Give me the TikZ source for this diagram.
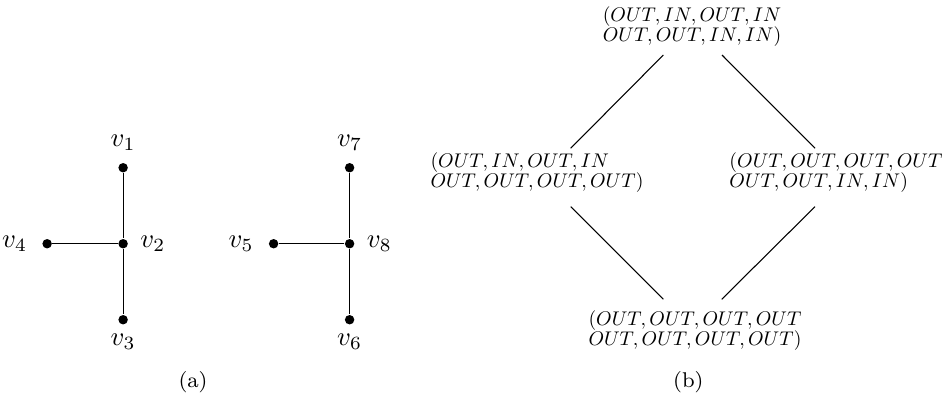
\documentclass[tikz,border=0pt]{standalone}
\usetikzlibrary{positioning}

\tikzset{
	vertex/.style={circle, fill=black, inner sep=1.25pt},
	tuple/.style={align=left, inner sep=1pt, scale=0.74, transform shape},
	sublabel/.style={font=\footnotesize}
}

\begin{document}
\begin{tikzpicture}
	\useasboundingbox (0,0) rectangle (12.434,5.237);
	% (a) two stars
	\node[vertex, label={[label distance=1pt]above:$v_1$}] (v1) at (1.62,3.03) {};
	\node[vertex, label={[label distance=1pt]right:$v_2$}] (v2) at (1.62,2.03) {};
	\node[vertex, label={[label distance=0pt]below:$v_3$}] (v3) at (1.62,1.03) {};
	\node[vertex, label={[label distance=2pt]left:$v_4$}] (v4) at (0.62,2.03) {};
	\draw (v1) -- (v2) -- (v3);
	\draw (v4) -- (v2);
	\node[vertex, label={[label distance=1pt]above:$v_7$}] (v7) at (4.6,3.03) {};
	\node[vertex, label={[label distance=1pt]right:$v_8$}] (v8) at (4.6,2.03) {};
	\node[vertex, label={[label distance=0pt]below:$v_6$}] (v6) at (4.6,1.03) {};
	\node[vertex, label={[label distance=2pt]left:$v_5$}] (v5) at (3.6,2.03) {};
	\draw (v7) -- (v8) -- (v6);
	\draw (v5) -- (v8);
	\node[sublabel] (capa) at (2.54,0.21) {(a)};
	% (b) the lattice
	\node[tuple] (top) at (9.105,4.89) {$(OUT, IN, OUT, IN$\\[-1.9pt]$OUT, OUT, IN, IN)$};
	\node[tuple] (left) at (7.066,2.97) {$(OUT, IN, OUT, IN$\\[-1.9pt]$OUT, OUT, OUT, OUT)$};
	\node[tuple] (right) at (11.0,2.97) {$(OUT, OUT, OUT, OUT$\\[-1.9pt]$OUT, OUT, IN, IN)$};
	\node[tuple] (bottom) at (9.145,0.89) {$(OUT, OUT, OUT, OUT$\\[-1.9pt]$OUT, OUT, OUT, OUT)$};
	\draw ([shift={(-0.377,-0.377)}]top.center) -- ([shift={(0.443,0.316)}]left.center);
	\draw ([shift={(0.395,-0.377)}]top.center) -- ([shift={(-0.276,0.316)}]right.center);
	\draw ([shift={(0.443,-0.452)}]left.center) -- ([shift={(-0.417,0.409)}]bottom.center);
	\draw ([shift={(-0.276,-0.452)}]right.center) -- ([shift={(0.351,0.409)}]bottom.center);
	\node[sublabel] (capb) at (9.057,0.21) {(b)};
%	\draw (top) -- (bottom);
\end{tikzpicture}
\end{document}
